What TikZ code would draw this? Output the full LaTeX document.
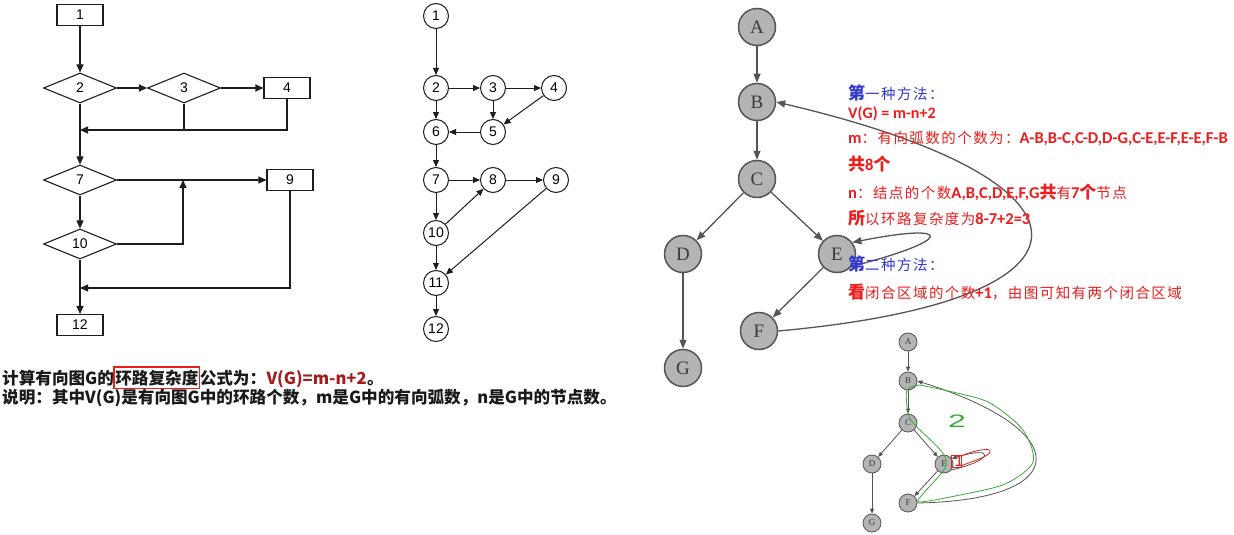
\documentclass[tikz,border=0pt]{standalone}
\usepackage{fontspec}
\setmainfont{Liberation Sans}
\newfontfamily\cjk{Noto Sans CJK SC}
\newfontfamily\cjkl[LetterSpace=10]{Noto Sans CJK SC}
\newfontfamily\serifnode{Liberation Serif}
\newfontfamily\calfont{Carlito}
\usetikzlibrary{shapes.geometric,arrows.meta}
\definecolor{lc}{HTML}{1E1E1E}
\definecolor{tx}{HTML}{1A1A1A}
\definecolor{dred}{HTML}{A51C1C}
\definecolor{rd}{HTML}{EE1C1C}
\definecolor{bl}{HTML}{3038D0}
\definecolor{gfill}{HTML}{B4B4B4}
\definecolor{gborder}{HTML}{555555}
\definecolor{gedge}{HTML}{555555}
\definecolor{gtext}{HTML}{3A3A3A}
\definecolor{grn}{HTML}{3AA83A}
\newcommand\latb[1]{{\calfont\bfseries\fontsize{16.5}{17}\selectfont #1}}
\newcommand\cjth[1]{{\cjkl\fontsize{14.5}{17}\selectfont #1}}
\newcommand\cjbg[1]{{\cjk\bfseries\fontsize{17}{17}\selectfont #1}}
\begin{document}
\begin{tikzpicture}[x=1pt,y=-1pt,
  fbox/.style={draw=lc, line width=1.1pt, minimum width=46pt, minimum height=21pt, inner sep=0pt, font=\fontsize{14}{14}\selectfont},
  fdia/.style={diamond, draw=lc, line width=1.1pt, minimum width=73pt, minimum height=30pt, inner sep=0pt, font=\fontsize{14}{14}\selectfont},
  farr/.style={draw=lc, line width=1.1pt, -{Triangle[length=8pt,width=7pt]}},
  fline/.style={draw=lc, line width=1.1pt},
  mc/.style={circle, draw=lc, line width=1pt, minimum size=25pt, inner sep=0pt, font=\fontsize{14}{14}\selectfont},
  marr/.style={draw=lc, line width=1pt, -{Triangle[length=7pt,width=6pt]}},
  gn/.style={circle, draw=gborder, fill=gfill, line width=1.5pt, minimum size=37pt, inner sep=0pt, font=\serifnode\fontsize{19}{19}\selectfont, text=gtext},
  garr/.style={draw=gedge, line width=1.3pt, -{Triangle[length=9pt,width=7pt]}},
  sn/.style={circle, draw=gborder, fill=gfill, line width=0.8pt, minimum size=18pt, inner sep=0pt, font=\serifnode\fontsize{9}{9}\selectfont, text=gtext},
  sarr/.style={draw=gedge, line width=0.8pt, -{Triangle[length=5pt,width=4pt]}},
  tl/.style={anchor=west, inner sep=0pt},
  bt/.style={anchor=base west, inner sep=0pt, font=\cjk\bfseries\fontsize{16.6}{17}\selectfont, text=tx}
]
\useasboundingbox[fill=white] (0,0) rectangle (1234,535);

% ---------- left flowchart ----------
\node[fbox] (f1) at (80,15) {1};
\node[fdia] (f2) at (80,88) {2};
\node[fdia] (f3) at (184,88) {3};
\node[fbox] (f4) at (287,88) {4};
\node[fdia] (f7) at (80,180) {7};
\node[fbox] (f9) at (290,180) {9};
\node[fdia] (f10) at (80,244) {10};
\node[fbox] (f12) at (80,325) {12};
\coordinate (j1) at (80,130);
\coordinate (j1b) at (184,130);
\coordinate (j2) at (183,180);
\coordinate (j3) at (80,288);
\draw[farr] (f1) -- (f2);
\draw[farr] (f2.east) -- (f3.west);
\draw[farr] (f3.east) -- (f4.west);
\draw[farr] (f4.south) |- (j1);
\draw[fline] (f3.south) -- (j1b);
\draw[farr] (f2.south) -- (f7.north);
\draw[farr] (f7.east) -- (f9.west);
\draw[farr] (f10.east) -| (j2);
\draw[farr] (f7.south) -- (f10.north);
\draw[farr] (f9.south) |- (j3);
\draw[farr] (f10.south) -- (f12.north);

% ---------- middle graph ----------
\node[mc] (m1) at (436,16) {1};
\node[mc] (m2) at (436,88) {2};
\node[mc] (m3) at (493,88) {3};
\node[mc] (m4) at (554,88) {4};
\node[mc] (m6) at (436,132) {6};
\node[mc] (m5) at (493,132) {5};
\node[mc] (m7) at (436,180) {7};
\node[mc] (m8) at (493,180) {8};
\node[mc] (m9) at (556,180) {9};
\node[mc] (m10) at (436,233) {10};
\node[mc] (m11) at (436,283) {11};
\node[mc] (m12) at (436,329) {12};
\draw[marr] (m1) -- (m2);
\draw[marr] (m2) -- (m3);
\draw[marr] (m3) -- (m4);
\draw[marr] (m2) -- (m6);
\draw[marr] (m3) -- (m5);
\draw[marr] (m4) -- (m5);
\draw[marr] (m5) -- (m6);
\draw[marr] (m6) -- (m7);
\draw[marr] (m7) -- (m8);
\draw[marr] (m8) -- (m9);
\draw[marr] (m7) -- (m10);
\draw[marr] (m10) -- (m8);
\draw[marr] (m9) -- (m11);
\draw[marr] (m10) -- (m11);
\draw[marr] (m11) -- (m12);

% ---------- bottom-left text ----------
\node[bt] (b1a) at (2,384) {计算有向图G的};
\node[bt, inner xsep=1pt, inner ysep=2.5pt] (b1b) at (b1a.base east) {环路复杂度};
\draw[rd, line width=1.5pt] (b1b.south west) rectangle (b1b.north east);
\node[bt] (b1c) at (b1b.base east) {公式为：};
\node[bt, text=dred] (b1d) at (b1c.base east) {V(G)=m-n+2};
\node[bt] (b1e) at (b1d.base east) {。};
\node[bt] (b2) at (2,403) {说明：其中V(G)是有向图G中的环路个数，m是G中的有向弧数，n是G中的节点数。};

% ---------- big graph ----------
\node[gn] (A) at (757,27) {A};
\node[gn] (B) at (757,102) {B};
\node[gn] (C) at (757,179) {C};
\node[gn] (D) at (683,254) {D};
\node[gn] (E) at (837,254) {E};
\node[gn] (F) at (759,331) {F};
\node[gn] (G) at (683,368) {G};
\draw[garr] (A) -- (B);
\draw[garr] (B) -- (C);
\draw[garr] (C) -- (D);
\draw[garr] (C) -- (E);
\draw[garr] (D) -- (G);
\draw[garr] (E) -- (F);
\draw[garr] (E.-40) .. controls (955,240) and (955,222) .. (E.37);
\draw[garr] (F.east) .. controls (1120,300) and (1110,180) .. (B.east);

% ---------- small graph ----------
\node[sn] (sA) at (908,342) {A};
\node[sn] (sB) at (908,381) {B};
\node[sn] (sC) at (908,423) {C};
\node[sn] (sD) at (872,464) {D};
\node[sn] (sE) at (944,464) {E};
\node[sn] (sF) at (908,503) {F};
\node[sn] (sG) at (872,523) {G};
\draw[sarr] (sA) -- (sB);
\draw[sarr] (sB) -- (sC);
\draw[sarr] (sC) -- (sD);
\draw[sarr] (sC) -- (sE);
\draw[sarr] (sD) -- (sG);
\draw[sarr] (sE) -- (sF);
\draw[sarr] (sE.-40) .. controls (995,460) and (995,445) .. (sE.35);
\draw[sarr] (sF.east) .. controls (1075,500) and (1075,430) .. (sB.east);
% handwritten annotations
\draw[grn, line width=0.8pt] plot[smooth, tension=0.5] coordinates {(920,385) (907,390) (908,413) (915,425) (942,452) (945,468) (922,495) (920,502) (960,495) (1005,484) (1033,462) (1023,430) (990,403) (957,393) (920,385)};
\node[grn, inner sep=0pt, font=\fontsize{20}{20}\selectfont] (two) at (957,421) {\scalebox{1.6}[0.9]{2}};
\draw[rd, line width=0.8pt] (951,455) rectangle (961,467);
\draw[rd, line width=0.8pt] (961,456) .. controls (975,450) and (992,447) .. (990,452) .. controls (988,457) and (975,460) .. (961,466);
\node[rd, inner sep=0pt, font=\fontsize{16}{16}\selectfont] (one) at (959,461) {1};

% ---------- text block ----------
\node[tl, text=bl] (t1) at (848,93) {\cjbg{第}\cjth{一种方法：}};
\node[tl, text=rd] (t2) at (848,114) {{\calfont\bfseries\fontsize{16}{16}\selectfont V(G) = m-n+2}};
\node[tl, text=rd] (t3) at (848,138) {\latb{m}\cjth{：有向弧数的个数为：}\latb{A-B,B-C,C-D,D-G,C-E,E-F,E-E,F-B}};
\node[tl, text=rd] (t4) at (848,164) {\cjbg{共}\latb{8}\cjbg{个}};
\node[tl, text=rd] (t5) at (848,192) {\latb{n}\cjth{：结点的个数}\latb{A,B,C,D,E,F,G}\cjbg{共}\cjth{有}\latb{7}\cjbg{个}\cjth{节点}};
\node[tl, text=rd] (t6) at (848,218) {\cjbg{所}\cjth{以环路复杂度为}\latb{8-7+2=3}};
\node[tl, text=bl] (t7) at (848,264) {\cjbg{第}\cjth{二种方法：}};
\node[tl, text=rd] (t8) at (848,292) {\cjbg{看}\cjth{闭合区域的个数}\latb{+1}\cjth{，由图可知有两个闭合区域}};
\end{tikzpicture}
\end{document}
